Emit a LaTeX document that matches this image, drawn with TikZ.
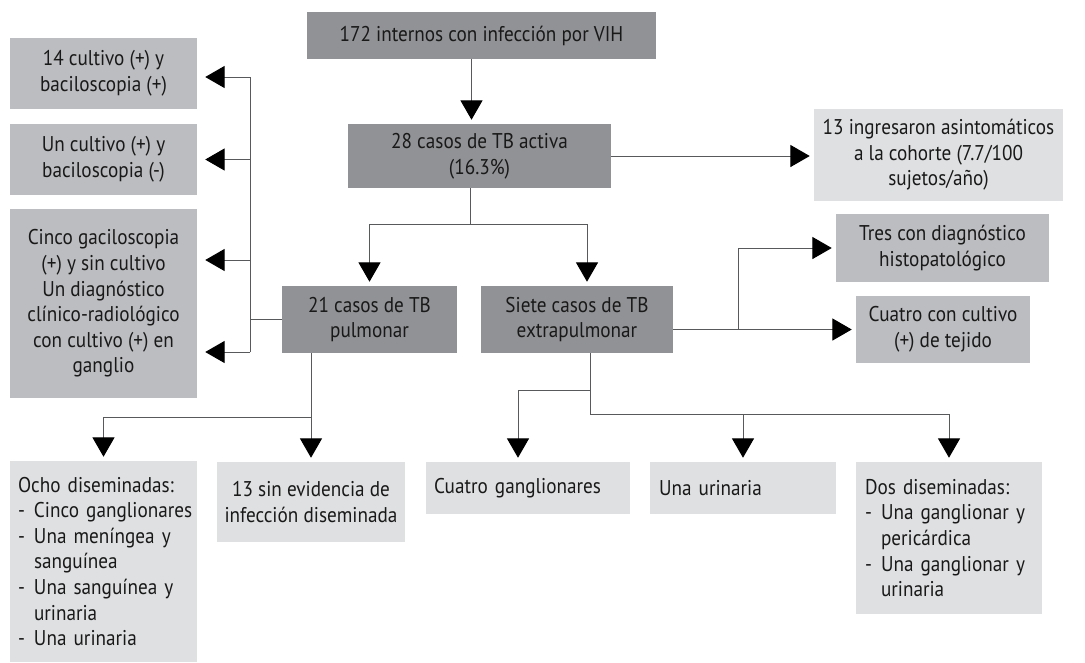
\documentclass[tikz,border=0pt]{standalone}
\usepackage{fontspec}
\setmainfont{PT Sans}[FakeStretch=0.9]
\usetikzlibrary{arrows.meta}
\definecolor{grisA}{HTML}{919295}
\definecolor{grisB}{HTML}{BCBDC0}
\definecolor{grisC}{HTML}{DFE0E2}
\definecolor{linea}{HTML}{58595B}
\newcommand{\guion}{\makebox[12pt][l]{-}}
\newcommand{\sangria}{\hspace*{12pt}}
\hyphenpenalty=10000
\begin{document}
\begin{tikzpicture}[x=0.75pt, y=-0.75pt,
    caja/.style={inner sep=0pt, align=center, text=black!90, font=\fontsize{16}{19.2}\selectfont},
    oscura/.style={caja, fill=grisA},
    media/.style={caja, fill=grisB},
    clara/.style={caja, fill=grisC},
    izq/.style={align=left},
    tam/.style 2 args={minimum width=#1, minimum height=#2},
    ln/.style={draw=linea, line width=0.75pt},
    arr/.style={ln, -{Triangle[length=14.5pt, width=16.5pt, black]}, shorten >=3pt}]
\useasboundingbox (0,0) rectangle (1085,662);
\node[oscura, tam={261.75pt}{35.25pt}] (vih) at (481.5,35.5) {172 internos con infección por VIH};
\node[oscura, tam={197.25pt}{48pt}] (activa) at (479.5,156) {28 casos de TB activa\\(16.3\%)};
\node[clara, tam={186.75pt}{69pt}] (asint) at (938.5,155) {13 ingresaron asintomáticos\\a la cohorte (7.7/100\\sujetos/año)};
\node[media, tam={140.25pt}{53.25pt}] (cult14) at (103.5,73.5) {14 cultivo (+) y\\baciloscopia (+)};
\node[media, tam={140.25pt}{53.25pt}] (cult1) at (103.5,159.5) {Un cultivo (+) y\\baciloscopia (-)};
\node[media, tam={140.25pt}{141.75pt}] (cinco) at (103.5,303.5) {Cinco gaciloscopia\\(+) y sin cultivo\\Un diagnóstico\\clínico-radiológico\\con cultivo (+) en\\ganglio};
\node[oscura, tam={131.25pt}{50.25pt}] (pulmonar) at (369.5,319.5) {21 casos de TB\\pulmonar};
\node[oscura, tam={144pt}{50.25pt}] (extrap) at (577,319.5) {Siete casos de TB\\extrapulmonar};
\node[media, tam={159.75pt}{51pt}] (histo) at (942.5,248) {Tres con diagnóstico\\histopatológico};
\node[media, tam={130.5pt}{50.25pt}] (tejido) at (943,329.5) {Cuatro con cultivo\\(+) de tejido};
\node[clara, izq, tam={140.25pt}{150.75pt}, text width=128.25pt] (ocho) at (103.5,561.5) {Ocho~diseminadas:\\\guion Cinco~ganglionares\\\guion Una~meníngea~y\\\sangria sanguínea\\\guion Una~sanguínea~y\\\sangria urinaria\\\guion Una~urinaria};
\node[clara, tam={141pt}{60pt}] (sinevid) at (311,502) {13 sin evidencia de\\infección diseminada};
\node[clara, izq, tam={153pt}{39pt}, text width=141pt] (gangl) at (528,488) {Cuatro~ganglionares};
\node[clara, izq, tam={139.5pt}{39pt}, text width=126pt] (urin) at (743,488) {Una~urinaria};
\node[clara, izq, tam={139.5pt}{114pt}, text width=126pt] (dos) at (949,538) {Dos~diseminadas:\\\guion Una~ganglionar~y\\\sangria pericárdica\\\guion Una~ganglionar~y\\\sangria urinaria};
\coordinate (p1) at (470,224);
\coordinate (b1) at (250,77);
\coordinate (b3) at (250,260);
\coordinate (b4) at (250,352);
\coordinate (h1) at (738,328);
\coordinate (k1) at (311,417);
\coordinate (e1) at (590,414);
\coordinate (e2) at (590,390);
\draw[arr] ([xshift=-7.5pt]vih.south) -- ([xshift=-7.5pt]vih.south |- activa.north);
\draw[arr] (activa.east) -- (activa.east -| asint.west);
\draw[ln] (activa.south -| p1) -- (p1);
\draw[arr] (p1) -| (pulmonar.north);
\draw[arr] (p1) -| ([xshift=7.5pt]extrap.north);
\draw[ln] (b1) -- (b4);
\draw[ln] (pulmonar.west) -- (pulmonar.west -| b1);
\draw[arr, shorten >=6pt] (b1) -- (b1 -| cult14.east);
\draw[arr, shorten >=6pt] (b1 |- cult1) -- (cult1.east);
\draw[arr, shorten >=6pt] (b3) -- (b3 -| cinco.east);
\draw[arr, shorten >=6pt] (b4) -- (b4 -| cinco.east);
\draw[arr] (tejido.west -| extrap.east) -- (tejido.west);
\draw[arr] (tejido.west -| h1) |- (histo.west);
\draw[arr] (pulmonar.south -| sinevid) -- (sinevid.north);
\draw[arr] (k1) -| (ocho.north);
\draw[ln] (extrap.south -| e1) -- (e1);
\draw[arr] (e2) -| ([xshift=-7.5pt]gangl.north);
\draw[arr] (e1) -| (urin.north);
\draw[arr] (e1) -| (dos.north);
\end{tikzpicture}
\end{document}
